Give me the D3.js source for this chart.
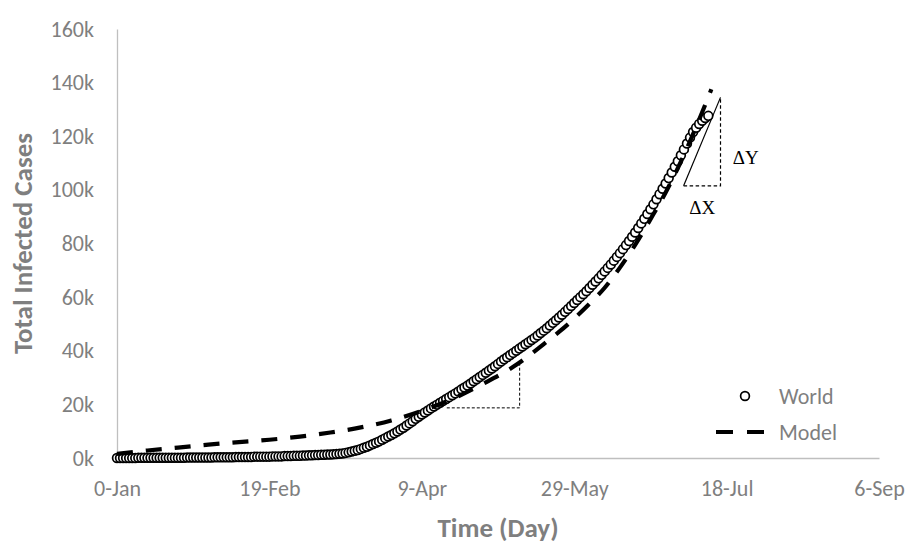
<!DOCTYPE html>
<html>
<head>
<meta charset="utf-8">
<script src="https://cdn.jsdelivr.net/npm/d3@7"></script>
<style>
  html, body { margin: 0; padding: 0; background: #fff; }
  svg { display: block; }
  .tick text { font-family: Carlito, Lato, "Open Sans", sans-serif; font-size: 22px; fill: #7f7f7f; }
</style>
</head>
<body>
<svg id="chart" width="907" height="546"></svg>
<script>
// ---------------- DATA ----------------
// World total infected cases (thousands), one value per day starting at day 0
const worldCases = [
  0.0,0.0,0.0,0.0,0.0,0.0,0.0,0.1,0.1,0.1,
  0.1,0.1,0.1,0.1,0.1,0.1,0.1,0.1,0.1,0.1,
  0.1,0.1,0.1,0.2,0.2,0.2,0.2,0.2,0.2,0.2,
  0.2,0.2,0.3,0.3,0.3,0.3,0.3,0.3,0.3,0.4,
  0.4,0.4,0.4,0.4,0.4,0.5,0.5,0.5,0.5,0.5,
  0.5,0.6,0.6,0.6,0.6,0.7,0.7,0.7,0.8,0.8,
  0.8,0.9,0.9,1.0,1.0,1.1,1.1,1.2,1.2,1.3,
  1.3,1.4,1.5,1.6,1.7,1.9,2.1,2.4,2.7,3.0,
  3.4,3.8,4.2,4.7,5.2,5.7,6.2,6.8,7.4,8.0,
  8.6,9.2,9.9,10.6,11.3,12.1,12.9,13.7,14.6,15.4,
  16.2,17.0,17.7,18.5,19.2,19.9,20.6,21.3,22.0,22.7,
  23.4,24.1,24.8,25.6,26.3,27.0,27.8,28.6,29.4,30.2,
  31.0,31.8,32.6,33.4,34.2,35.1,36.0,36.8,37.6,38.4,
  39.2,40.0,40.8,41.6,42.4,43.2,44.0,44.8,45.7,46.6,
  47.5,48.4,49.4,50.4,51.4,52.4,53.4,54.5,55.6,56.7,
  57.8,58.9,60.0,61.1,62.2,63.4,64.6,65.8,67.0,68.3,
  69.6,70.9,72.2,73.6,75.0,76.4,77.9,79.4,80.9,82.5,
  84.1,85.8,87.5,89.2,91.0,92.8,94.6,96.5,98.4,100.4,
  102.4,104.4,106.5,108.6,110.7,112.9,115.1,117.3,119.5,121.6,
  123.2,124.6,125.8,126.8,127.6
];

// Model curve (day, thousands)
const modelDays  = [0,10,20,30,40,50,60,70,80,90,100,110,120,130,135,140,145,150,155,160,165,170,175,180,185,190,195];
const modelCases = [1.5,2.8,3.9,5.0,5.9,6.8,8.0,9.5,11.4,14.0,17.6,22.0,27.6,34.0,38.0,42.5,47.0,52.0,57.5,63.5,71.0,79.5,89.0,99.0,110.5,123.5,137.5];

// Axis ticks
const xTickDays   = [0, 50, 100, 150, 200, 250];
const xTickLabels = ["0-Jan", "19-Feb", "9-Apr", "29-May", "18-Jul", "6-Sep"];
const yTickValues = [0, 20, 40, 60, 80, 100, 120, 140, 160];

// Slope annotation triangles (day, thousands)
const triLowX  = [108.2, 132.1];
const triLowY  = [18.7, 36.0];
const triHighX = [185.9, 198.0];
const triHighY = [101.5, 134.5];
const deltaLabels = [
  { text: "\u0394Y", day: 206.3, val: 112.0 },
  { text: "\u0394X", day: 192.0, val: 93.5 }
];

const seriesNames = ["World", "Model"];

// ---------------- CHART ----------------
const svg = d3.select("#chart");
const margin = { left: 117, top: 29, right: 28, bottom: 88 };
const W = 907, H = 546;

const x = d3.scaleLinear().domain([0, 250]).range([margin.left, W - margin.right]);
const y = d3.scaleLinear().domain([0, 160]).range([H - margin.bottom, margin.top]);

const gray = "#7f7f7f";
const axisColor = "#bfbfbf";
const sansFont = "Carlito, Lato, 'Open Sans', sans-serif";

// Y axis
const yAxis = svg.append("g")
  .attr("transform", `translate(${x(0)},0)`)
  .call(d3.axisLeft(y).tickValues(yTickValues).tickFormat(d => d + "k").tickSize(0).tickPadding(23));
yAxis.select(".domain").attr("stroke", axisColor).attr("stroke-width", 1.3);

// X axis
const xAxis = svg.append("g")
  .attr("transform", `translate(0,${y(0)})`)
  .call(d3.axisBottom(x).tickValues(xTickDays).tickFormat((d, i) => xTickLabels[i]).tickSize(0).tickPadding(22));
xAxis.select(".domain").attr("stroke", axisColor).attr("stroke-width", 1.3);

// Axis titles
svg.append("text")
  .attr("transform", `translate(32,${(y(0) + y(160)) / 2}) rotate(-90)`)
  .attr("text-anchor", "middle")
  .style("font-family", sansFont)
  .style("font-size", "27px").style("font-weight", "bold").style("fill", gray)
  .text("Total Infected Cases");

svg.append("text")
  .attr("x", (x(0) + x(250)) / 2).attr("y", 537)
  .attr("text-anchor", "middle")
  .style("font-family", sansFont)
  .style("font-size", "27px").style("font-weight", "bold").style("fill", gray)
  .text("Time (Day)");

// Triangles (behind data)
const tri = svg.append("g").attr("fill", "none").attr("stroke", "#000");
tri.append("path")
  .attr("d", `M${x(triLowX[0])},${y(triLowY[0])}H${x(triLowX[1])}V${y(triLowY[1])}`)
  .attr("stroke-width", 1).attr("stroke-dasharray", "3,2");
tri.append("path")
  .attr("d", `M${x(triHighX[0])},${y(triHighY[0])}H${x(triHighX[1])}V${y(triHighY[1])}`)
  .attr("stroke-width", 1.2).attr("stroke-dasharray", "3.5,2.5");
tri.append("line")
  .attr("x1", x(triHighX[0])).attr("y1", y(triHighY[0]))
  .attr("x2", x(triHighX[1])).attr("y2", y(triHighY[1]))
  .attr("stroke-width", 1.2);

// World markers
svg.append("g")
  .selectAll("circle")
  .data(worldCases)
  .join("circle")
  .attr("cx", (d, i) => x(i))
  .attr("cy", d => y(d))
  .attr("r", 4.4)
  .attr("fill", "#fff")
  .attr("stroke", "#000")
  .attr("stroke-width", 1.7);

// Model dashed line
const modelPts = modelDays.map((d, i) => [d, modelCases[i]]);
svg.append("path")
  .datum(modelPts)
  .attr("fill", "none")
  .attr("stroke", "#000")
  .attr("stroke-width", 4.2)
  .attr("stroke-dasharray", "16,13")
  .attr("d", d3.line().x(d => x(d[0])).y(d => y(d[1])).curve(d3.curveMonotoneX));

// Delta labels
svg.append("g").selectAll("text")
  .data(deltaLabels)
  .join("text")
  .attr("x", d => x(d.day)).attr("y", d => y(d.val))
  .attr("text-anchor", "middle").attr("dy", "0.35em")
  .style("font-family", "'Liberation Serif', 'DejaVu Serif', serif")
  .style("font-size", "19px").style("fill", "#000")
  .text(d => d.text);

// Legend
const lg = svg.append("g");
lg.append("circle").attr("cx", 745).attr("cy", 396).attr("r", 4.4)
  .attr("fill", "#fff").attr("stroke", "#000").attr("stroke-width", 1.7);
lg.append("line").attr("x1", 716).attr("x2", 764).attr("y1", 432).attr("y2", 432)
  .attr("stroke", "#000").attr("stroke-width", 4.2).attr("stroke-dasharray", "17,14");
lg.selectAll("text.leg")
  .data(seriesNames)
  .join("text")
  .attr("class", "leg")
  .attr("x", 779).attr("y", (d, i) => 396 + i * 36)
  .attr("dy", "0.35em")
  .style("font-family", sansFont)
  .style("font-size", "22px").style("fill", gray)
  .text(d => d);
</script>
</body>
</html>
